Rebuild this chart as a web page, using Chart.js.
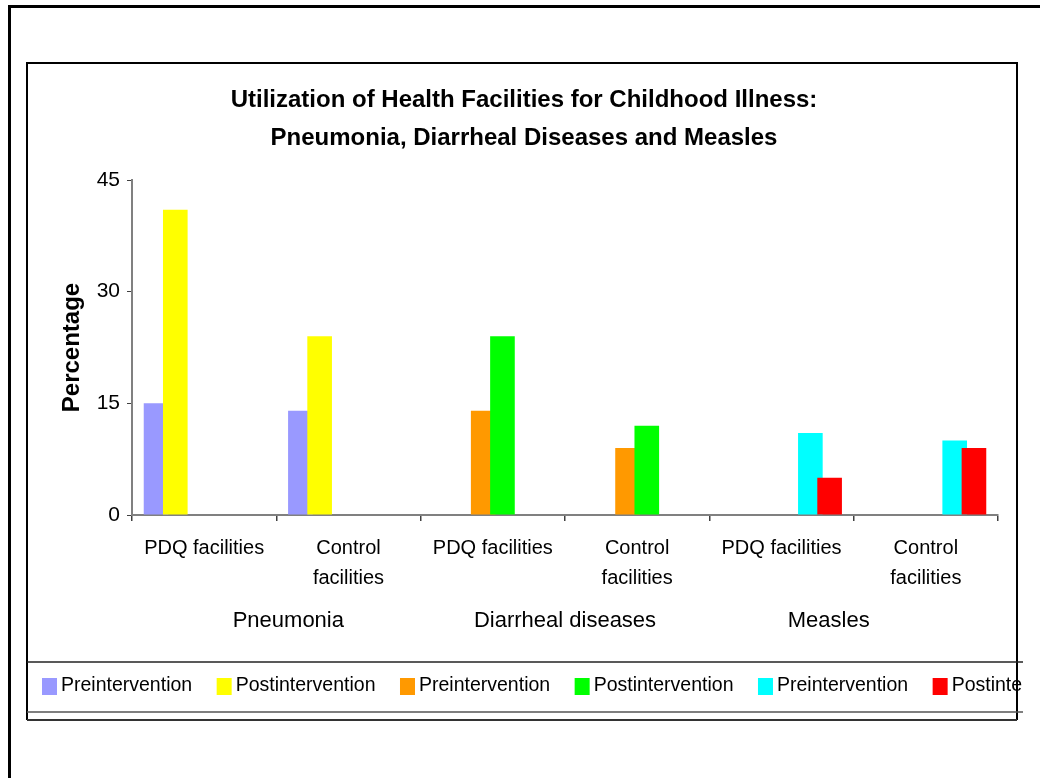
<!DOCTYPE html>
<html>
<head>
<meta charset="utf-8">
<script src="https://cdn.jsdelivr.net/npm/chart.js@4.4.1/dist/chart.umd.min.js"></script>
<style>
  html, body { margin: 0; padding: 0; background: #fff; }
  #wrap { width: 1040px; height: 778px; }
</style>
</head>
<body>
<div id="wrap"><canvas id="chart" width="1040" height="778"></canvas></div>
<script>
// facility groups along the x axis
const categories = [
    'PDQ facilities', ['Control', 'facilities'],
    'PDQ facilities', ['Control', 'facilities'],
    'PDQ facilities', ['Control', 'facilities']
];
const groupLabels = ['Pneumonia', 'Diarrheal diseases', 'Measles'];
const titleLines = [
    'Utilization of Health Facilities for Childhood Illness:',
    'Pneumonia, Diarrheal Diseases and Measles'
];

// percentages, one series per illness and period
const pneumoniaPre   = [15, 14, null, null, null, null];
const pneumoniaPost  = [41, 24, null, null, null, null];
const diarrhealPre   = [null, null, 14, 9, null, null];
const diarrhealPost  = [null, null, 24, 12, null, null];
const measlesPre     = [null, null, null, null, 11, 10];
const measlesPost    = [null, null, null, null, 5, 9];

const yMax = 45;
const yStep = 15;

const FONT = '"Liberation Sans", Arial, sans-serif';

// frame, inner box, title and the legend strip
const framePlugin = {
    id: 'frame',
    beforeDraw(chart) {
        const ctx = chart.ctx;
        ctx.save();
        ctx.fillStyle = '#fff';
        ctx.fillRect(0, 0, chart.width, chart.height);

        ctx.strokeStyle = '#000';
        ctx.lineWidth = 3;
        ctx.strokeRect(9.5, 6.5, 1200, 1000);

        ctx.lineWidth = 2;
        ctx.beginPath();
        ctx.moveTo(27, 720); ctx.lineTo(27, 63); ctx.lineTo(1017, 63); ctx.lineTo(1017, 720);
        ctx.stroke();

        ctx.lineWidth = 1.5;
        ctx.strokeStyle = '#222';
        ctx.beginPath();
        ctx.moveTo(27, 662); ctx.lineTo(1023, 662);
        ctx.stroke();
        ctx.strokeStyle = '#555';
        ctx.beginPath();
        ctx.moveTo(27, 712); ctx.lineTo(1023, 712);
        ctx.stroke();
        ctx.strokeStyle = '#333';
        ctx.lineWidth = 2;
        ctx.beginPath();
        ctx.moveTo(27, 720); ctx.lineTo(1017, 720);
        ctx.stroke();

        // title centred on the inner box
        ctx.fillStyle = '#000';
        ctx.font = 'bold 24px ' + FONT;
        ctx.textAlign = 'center';
        ctx.textBaseline = 'middle';
        titleLines.forEach((line, i) => ctx.fillText(line, 524, 100 + i * 38));
        ctx.restore();
    }
};

// later series drawn over earlier ones
const drawOrderPlugin = {
    id: 'drawOrder',
    beforeDatasetsDraw(chart) {
        chart.getSortedVisibleDatasetMetas().forEach(meta => meta.controller.draw());
        return false;
    }
};

// illness names under each pair of categories
const groupPlugin = {
    id: 'groups',
    afterDraw(chart) {
        const ctx = chart.ctx;
        const x = chart.scales.x;
        const nudge = [12, 0, -25];
        ctx.save();
        ctx.font = '22px ' + FONT;
        ctx.fillStyle = '#000';
        ctx.textAlign = 'center';
        ctx.textBaseline = 'middle';
        groupLabels.forEach((label, i) => {
            const px = (x.getPixelForValue(i * 2) + x.getPixelForValue(i * 2 + 1)) / 2;
            ctx.fillText(label, px + nudge[i], 621);
        });
        ctx.restore();
    }
};

// single-row legend that runs past the box edge
const stripLegendPlugin = {
    id: 'stripLegend',
    afterDraw(chart) {
        const ctx = chart.ctx;
        ctx.save();
        ctx.beginPath();
        ctx.rect(28, 663, 995, 48);
        ctx.clip();
        ctx.font = '19.5px ' + FONT;
        ctx.textBaseline = 'middle';
        let x = 42;
        chart.data.datasets.forEach(ds => {
            ctx.fillStyle = ds.backgroundColor;
            ctx.fillRect(x, 678, 15, 17);
            ctx.fillStyle = '#000';
            ctx.fillText(ds.label, x + 19, 686);
            x += 19 + ctx.measureText(ds.label).width + 24.5;
        });
        ctx.restore();
    }
};

const series = [
    { label: 'Preintervention',  data: pneumoniaPre,  color: '#9999FF' },
    { label: 'Postintervention', data: pneumoniaPost, color: '#FFFF00' },
    { label: 'Preintervention',  data: diarrhealPre,  color: '#FF9900' },
    { label: 'Postintervention', data: diarrhealPost, color: '#00FF00' },
    { label: 'Preintervention',  data: measlesPre,    color: '#00FFFF' },
    { label: 'Postintervention', data: measlesPost,   color: '#FF0000' }
];

new Chart(document.getElementById('chart'), {
    type: 'bar',
    data: {
        labels: categories,
        datasets: series.map(s => ({
            label: s.label,
            data: s.data,
            backgroundColor: s.color,
            borderWidth: 0,
            categoryPercentage: 0.8,
            barPercentage: 1.28
        }))
    },
    options: {
        responsive: false,
        animation: false,
        devicePixelRatio: 1,
        layout: { padding: { left: 32, right: 42, top: 180, bottom: 0 } },
        plugins: {
            legend: { display: false },
            tooltip: { enabled: false },
            title: { display: false }
        },
        scales: {
            x: {
                border: { color: '#808080', width: 2 },
                grid: { drawOnChartArea: false, color: '#404040', tickLength: 6, lineWidth: 1.5 },
                ticks: {
                    color: '#000',
                    font: { family: FONT, size: 20, lineHeight: 1.5 },
                    padding: 12,
                    maxRotation: 0,
                    autoSkip: false
                },
                afterFit(scale) { scale.height = 263; }
            },
            y: {
                min: 0,
                max: yMax,
                border: { color: '#808080', width: 2 },
                grid: { drawOnChartArea: false, color: '#404040', tickLength: 5, lineWidth: 1 },
                ticks: {
                    stepSize: yStep,
                    color: '#000',
                    font: { family: FONT, size: 21 },
                    padding: 7
                },
                title: {
                    display: true,
                    text: 'Percentage',
                    color: '#000',
                    font: { family: FONT, size: 24, weight: 'bold' },
                    padding: { top: 26, bottom: 0 }
                },
                afterFit(scale) { scale.width = 100; }
            }
        }
    },
    plugins: [framePlugin, drawOrderPlugin, groupPlugin, stripLegendPlugin]
});
</script>
</body>
</html>
